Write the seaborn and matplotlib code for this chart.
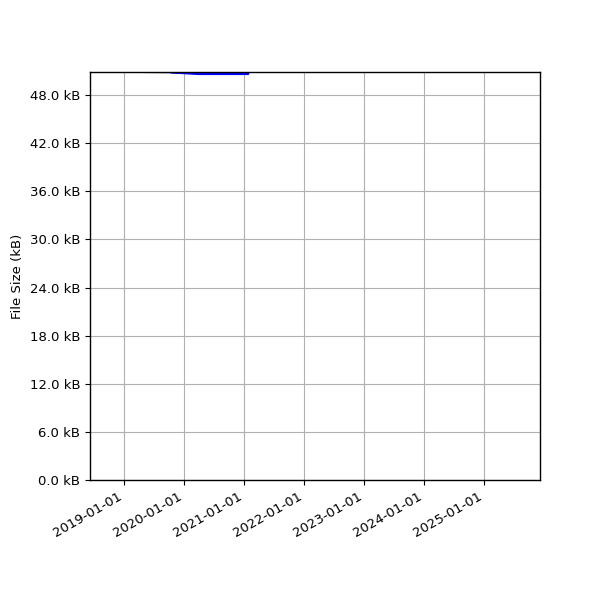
import matplotlib
matplotlib.use("Agg")
import matplotlib.pyplot as plt
import matplotlib.dates as mdates
from matplotlib.ticker import MultipleLocator, FuncFormatter
import pandas as pd
import seaborn as sns

# Data
total_dates = ["2019-05-01", "2019-10-15", "2020-04-01"]
total_kb = [50.87, 50.85, 50.70]

file_dates = ["2019-10-15", "2020-04-01", "2021-01-25"]
file_kb = [50.85, 50.66, 50.66]

x_start = "2018-06-08"
x_end = "2025-12-07"

total = pd.DataFrame({"date": pd.to_datetime(total_dates), "kb": total_kb})
single = pd.DataFrame({"date": pd.to_datetime(file_dates), "kb": file_kb})

sns.set_style("ticks")
plt.rcParams["font.family"] = ["DejaVu Sans"]
plt.rcParams["text.color"] = "black"
plt.rcParams["axes.labelcolor"] = "black"

fig, ax = plt.subplots(figsize=(6, 6), dpi=100)
fig.subplots_adjust(left=0.15, right=0.9, bottom=0.2, top=0.88)

sns.lineplot(data=total, x="date", y="kb", color="black", linewidth=1.5, ax=ax)
sns.lineplot(data=single, x="date", y="kb", color="blue", linewidth=2, ax=ax)

ax.set_xlim(pd.Timestamp(x_start), pd.Timestamp(x_end))
ax.set_ylim(0, max(total_kb))
ax.yaxis.set_major_locator(MultipleLocator(6))
ax.yaxis.set_major_formatter(FuncFormatter(lambda v, p: f"{v:.1f} kB"))
ax.xaxis.set_major_locator(mdates.YearLocator())
ax.xaxis.set_major_formatter(mdates.DateFormatter("%Y-%m-%d"))

ax.grid(True, color="#b0b0b0", linewidth=0.8)
ax.set_xlabel("")
ax.set_ylabel("File Size (kB)", fontsize=9.5)
for s in ax.spines.values():
    s.set_color("black")
    s.set_linewidth(1.0)
ax.tick_params(colors="black", labelcolor="black", labelsize=9.5,
               length=3.5, width=0.8, pad=3.5)
plt.setp(ax.get_xticklabels(), rotation=30, ha="right")

fig.savefig("out.png")
